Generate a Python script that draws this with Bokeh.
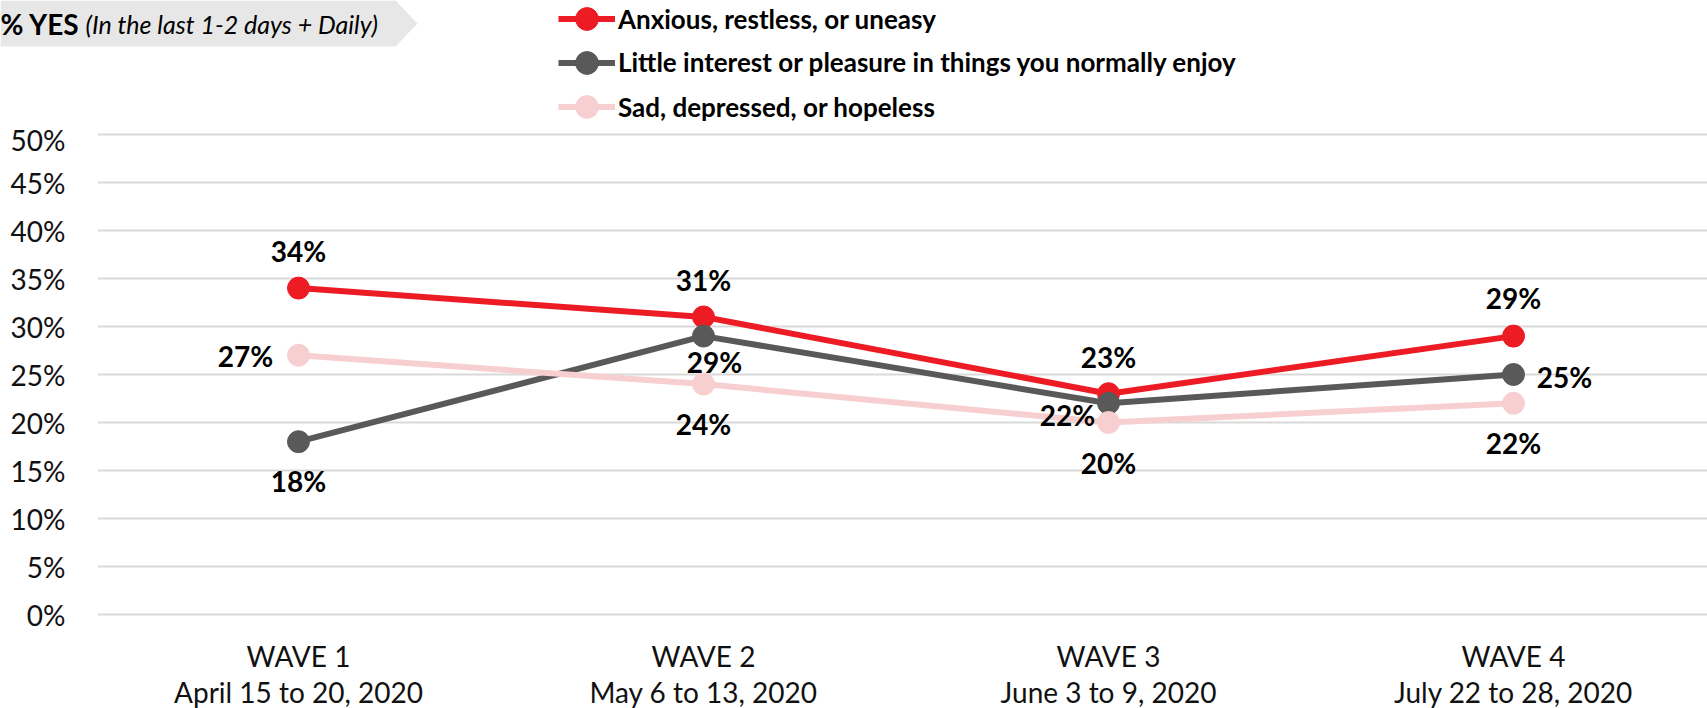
from bokeh.plotting import figure
from bokeh.models import (Range1d, FixedTicker, NumeralTickFormatter, Legend, LegendItem,
                          ColumnDataSource, PolyAnnotation, Label)
from bokeh.core.properties import value
from bokeh.embed import file_html
from bokeh.resources import INLINE

# ---------------- data ----------------
waves = ["WAVE 1", "WAVE 2", "WAVE 3", "WAVE 4"]
dates = ["April 15 to 20, 2020", "May 6 to 13, 2020", "June 3 to 9, 2020", "July 22 to 28, 2020"]
anxious = [0.34, 0.31, 0.23, 0.29]
little_interest = [0.18, 0.29, 0.22, 0.25]
sad = [0.27, 0.24, 0.20, 0.22]
series_names = ["Anxious, restless, or uneasy",
                "Little interest or pleasure in things you normally enjoy",
                "Sad, depressed, or hopeless"]
y_ticks = [0.0, 0.05, 0.10, 0.15, 0.20, 0.25, 0.30, 0.35, 0.40, 0.45, 0.50]
title_bold = "% YES"
title_italic = "(In the last 1-2 days + Daily)"

# ---------------- style ----------------
FONT = "Lato"
colors = ["#ED1C24", "#595959", "#F8CFD0"]
# label offsets in screen px (dx, dy; dy positive = down)
label_offsets = [
    [(0, -37), (0, -37), (0, -37), (0, -38)],
    [(0, 39), (11, 26), (-41, 12), (51, 2)],
    [(-53, 1), (0, 40), (0, 40), (0, 40)],
]
legend_row_centers = [18.5, 62, 106.5]   # px from top of the strip
GLYPH = 57                               # legend glyph box (gives ~23px marker)

W = 1707
TOP_H = 122
MAIN_H = 708 - TOP_H
FL = 97                     # frame left (px)
X0, DX = 298, 405           # px of first category, px per category
Y50, Y0 = 12, 492           # px (in main canvas) of 50% and 0%
PY = (Y0 - Y50) / 0.5
NAN = float("nan")

# ---------------- top strip: title tag + legend ----------------
top = figure(width=W, height=TOP_H, x_range=Range1d(0, W), y_range=Range1d(TOP_H, 0),
             output_backend="svg", toolbar_location=None,
             x_axis_location=None, y_axis_location=None,
             min_border_left=0, min_border_right=0, min_border_top=0, min_border_bottom=0)
top.outline_line_color = None
top.grid.visible = False

top.add_layout(PolyAnnotation(xs=[0, 395, 417, 395, 0], ys=[0, 0, 23, 46, 46],
                              fill_color="#E7E7E7", fill_alpha=1, line_color=None))
top.add_layout(Label(x=0, y=23, text=title_bold, text_font=FONT, text_font_style="bold",
                     text_font_size="28px", text_baseline="middle", text_align="left",
                     text_color="black"))
top.add_layout(Label(x=85, y=23, text=title_italic, text_font=FONT, text_font_style="italic",
                     text_font_size="25px", text_baseline="middle", text_align="left",
                     text_color="black"))

for name, col, cy in zip(series_names, colors, legend_row_centers):
    lr = top.line(x=[NAN], y=[NAN], line_color=col, line_width=6)
    sr = top.scatter(x=[NAN], y=[NAN], size=22, fill_color=col, line_color=col)
    vy = TOP_H - (cy + GLYPH / 2)
    leg = Legend(items=[LegendItem(label=name, renderers=[lr, sr])], location=(558, vy),
                 glyph_width=GLYPH, glyph_height=GLYPH, label_height=GLYPH, spacing=0,
                 padding=0, margin=0, border_line_color=None, background_fill_alpha=0,
                 label_text_font=FONT, label_text_font_style="bold",
                 label_text_font_size="26px", label_text_color="black", label_standoff=3)
    top.add_layout(leg)

# ---------------- main chart ----------------
x_lo = (FL - X0) / DX
x_hi = (W - X0) / DX
y_lo = -(MAIN_H - Y0) / PY
y_hi = 0.5 + Y50 / PY

p = figure(width=W, height=MAIN_H, x_range=Range1d(x_lo, x_hi), y_range=Range1d(y_lo, y_hi),
           output_backend="svg", toolbar_location=None, x_axis_location=None,
           min_border_left=FL, min_border_right=0, min_border_top=0, min_border_bottom=0)
p.outline_line_color = None

p.yaxis.ticker = FixedTicker(ticks=y_ticks)
p.yaxis.formatter = NumeralTickFormatter(format="0%")
p.yaxis.axis_line_color = None
p.yaxis.major_tick_line_color = None
p.yaxis.minor_tick_line_color = None
p.yaxis.major_tick_out = 0
p.yaxis.major_tick_in = 0
p.yaxis.major_label_text_font = FONT
p.yaxis.major_label_text_font_size = "28px"
p.yaxis.major_label_text_color = "#111111"
p.yaxis.major_label_standoff = 32
p.xgrid.visible = False
p.ygrid.grid_line_color = "#D9D9D9"
p.ygrid.grid_line_width = 2

xs = [0, 1, 2, 3]

# category labels (two lines under the 0% line)
cat_src = ColumnDataSource(dict(x=xs, y=[0, 0, 0, 0], wave=waves, date=dates))
p.text("x", "y", text="wave", y_offset=41, source=cat_src, text_align="center",
       text_baseline="middle", text_font=value(FONT), text_font_size="28px", text_color="#111111")
p.text("x", "y", text="date", y_offset=77, source=cat_src, text_align="center",
       text_baseline="middle", text_font=value(FONT), text_font_size="28px", text_color="#111111")

# series
all_series = [anxious, little_interest, sad]
for vals, col in zip(all_series, colors):
    src = ColumnDataSource(dict(x=xs, y=vals))
    p.line("x", "y", source=src, line_color=col, line_width=6)
    p.scatter("x", "y", source=src, size=22, fill_color=col, line_color=col)

# data labels
for vals, offs in zip(all_series, label_offsets):
    src = ColumnDataSource(dict(x=xs, y=vals,
                                text=[f"{round(v * 100)}%" for v in vals],
                                ox=[o[0] for o in offs], oy=[o[1] for o in offs]))
    p.text("x", "y", text="text", x_offset="ox", y_offset="oy", source=src,
           text_align="center", text_baseline="middle", text_font=value(FONT),
           text_font_style="bold", text_font_size="28px", text_color="black")

open("out.html", "w").write(file_html([top, p], INLINE))
